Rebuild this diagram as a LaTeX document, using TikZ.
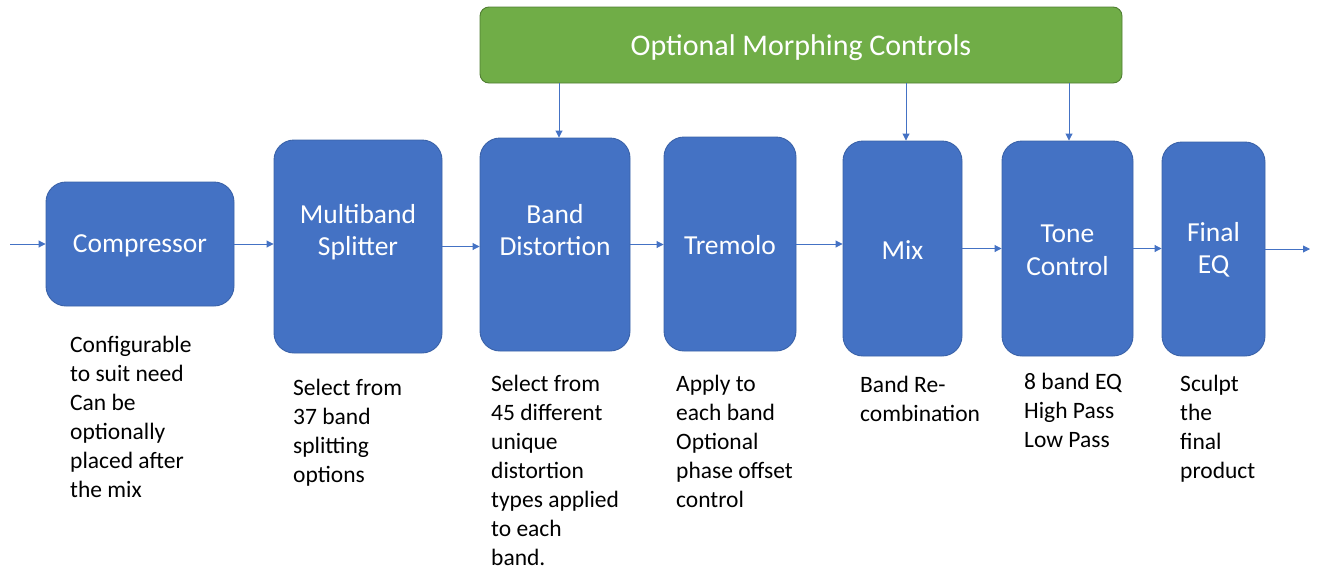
\documentclass[tikz,border=0pt]{standalone}
\usepackage{fontspec}
\setmainfont{Carlito}
\usetikzlibrary{arrows.meta}
\definecolor{boxblue}{HTML}{4472C4}
\definecolor{boxedge}{HTML}{3A62A8}
\definecolor{boxgreen}{HTML}{70AD47}
\definecolor{greenedge}{HTML}{507E32}
\tikzset{
  stagebox/.style={draw=boxedge, line width=0.9pt, fill=boxblue, rounded corners=20pt, inner sep=0pt},
  stagelabel/.style={text=white, align=center, inner sep=0pt, font=\fontsize{27.5}{32.5}\selectfont},
  desc/.style={anchor=base west, align=left, inner sep=0pt, font=\fontsize{23.5}{29}\selectfont},
  arr/.style={draw=boxblue, line width=0.9pt, -{Triangle[width=7pt,length=7pt]}},
}
\begin{document}
\begin{tikzpicture}[x=1pt,y=-1pt]
\useasboundingbox (0,0) rectangle (1319,571);
% green top box
\node[draw=greenedge, line width=0.9pt, fill=boxgreen, rounded corners=9pt, minimum width=642pt, minimum height=76pt, inner sep=0pt] (morph) at (801,45) {};
\node[text=white, inner sep=0pt, font=\fontsize{30}{34}\selectfont] (morphL) at (801,48) {Optional Morphing Controls};
% stage boxes
\node[stagebox, minimum width=188pt, minimum height=124pt] (comp) at (140,244) {};
\node[stagebox, minimum width=168pt, minimum height=213pt] (split) at (358,246.5) {};
\node[stagebox, minimum width=150pt, minimum height=213pt] (dist) at (555,244.5) {};
\node[stagebox, minimum width=132pt, minimum height=214pt] (trem) at (730,244) {};
\node[stagebox, minimum width=119pt, minimum height=215pt] (mix) at (902.5,248.5) {};
\node[stagebox, minimum width=131pt, minimum height=215pt] (tone) at (1067.5,248.5) {};
\node[stagebox, minimum width=103pt, minimum height=214pt] (final) at (1213.5,249) {};
% labels
\node[stagelabel] (compL) at (140,246) {Compressor};
\node[stagelabel] (splitL) at (358,232) {Multiband\\Splitter};
\node[stagelabel] (distL) at (555,230) {Band\\Distortion};
\node[stagelabel] (tremL) at (730,245) {Tremolo};
\node[stagelabel] (mixL) at (902.5,250) {Mix};
\node[stagelabel] (toneL) at (1067.5,250.5) {Tone\\Control};
\node[stagelabel] (finalL) at (1213.5,250) {Final\\EQ};
% descriptions (anchor = baseline of last line)
\node[desc] (compD) at (70,497) {Configurable\\to suit need\\Can be\\optionally\\placed after\\the mix};
\node[desc] (splitD) at (293,482) {Select from\\37 band\\splitting\\options};
\node[desc] (distD) at (491,565) {Select from\\45 different\\unique\\distortion\\types applied\\to each\\band.};
\node[desc] (tremD) at (676,507) {Apply to\\each band\\Optional\\phase offset\\control};
\node[desc] (mixD) at (860,421) {Band Re-\\combination};
\node[desc] (toneD) at (1024,447) {8 band EQ\\High Pass\\Low Pass};
\node[desc] (finalD) at (1180,478) {Sculpt\\the\\final\\product};
% connectors
\coordinate (in) at (10,244);
\coordinate (out) at (1310,249);
\draw[arr] (in) -- (comp.west);
\draw[arr] (comp.east) -- (comp.east -| split.west);
\draw[arr] (split.east) -- (split.east -| dist.west);
\draw[arr] (dist.east) -- (dist.east -| trem.west);
\draw[arr] (trem.east) -- (trem.east -| mix.west);
\draw[arr] (mix.east) -- (mix.east -| tone.west);
\draw[arr] (tone.east) -- (tone.east -| final.west);
\draw[arr] (final.east) -- (out);
\draw[arr] ([xshift=4pt]dist.north |- morph.south) -- ([xshift=4pt]dist.north);
\draw[arr] ([xshift=3.5pt]mix.north |- morph.south) -- ([xshift=3.5pt]mix.north);
\draw[arr] ([xshift=1.5pt]tone.north |- morph.south) -- ([xshift=1.5pt]tone.north);
\end{tikzpicture}
\end{document}
